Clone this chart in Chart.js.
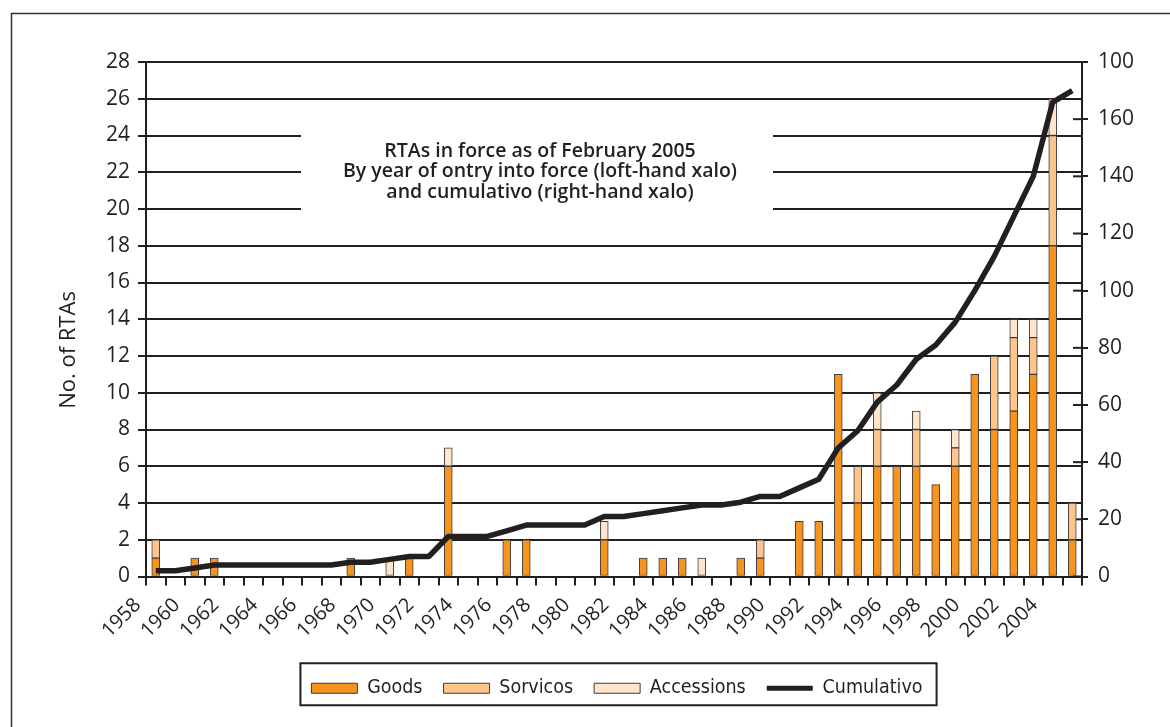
<!DOCTYPE html>
<html>
<head>
<meta charset="utf-8">
<title>RTAs in force as of February 2005</title>
<script src="https://cdn.jsdelivr.net/npm/chart.js@4.4.0/dist/chart.umd.min.js"></script>
<style>
  html, body { margin: 0; padding: 0; background: #fff; }
</style>
</head>
<body>
<canvas id="rta-chart" width="1170" height="727"></canvas>
<script>
// categories: year of entry into force
var years = ["1958", "1959", "1960", "1961", "1962", "1963", "1964", "1965", "1966", "1967",
  "1968", "1969", "1970", "1971", "1972", "1973", "1974", "1975", "1976", "1977",
  "1978", "1979", "1980", "1981", "1982", "1983", "1984", "1985", "1986", "1987",
  "1988", "1989", "1990", "1991", "1992", "1993", "1994", "1995", "1996", "1997",
  "1998", "1999", "2000", "2001", "2002", "2003", "2004", "2005"];

// left-hand axis, RTAs per year
var goods = [1, 0, 1, 1, 0, 0, 0, 0, 0, 0,
  1, 0, 0, 1, 0, 6, 0, 0, 2, 2,
  0, 0, 0, 2, 0, 1, 1, 1, 0, 0,
  1, 1, 0, 3, 3, 11, 4, 6, 6, 6,
  5, 6, 11, 8, 9, 11, 18, 2];
var sorvicos = [1, 0, 0, 0, 0, 0, 0, 0, 0, 0,
  0, 0, 0, 0, 0, 0, 0, 0, 0, 0,
  0, 0, 0, 0, 0, 0, 0, 0, 0, 0,
  0, 1, 0, 0, 0, 0, 2, 2, 0, 2,
  0, 1, 0, 4, 4, 2, 6, 2];
var accessions = [0, 0, 0, 0, 0, 0, 0, 0, 0, 0,
  0, 0, 1, 0, 0, 1, 0, 0, 0, 0,
  0, 0, 0, 1, 0, 0, 0, 0, 1, 0,
  0, 0, 0, 0, 0, 0, 0, 2, 0, 1,
  0, 1, 0, 0, 1, 1, 2, 0];

// right-hand axis, cumulative total
var cumulativo = [2, 2, 3, 4, 4, 4, 4, 4, 4, 4,
  5, 5, 6, 7, 7, 14, 14, 14, 16, 18,
  18, 18, 18, 21, 21, 22, 23, 24, 25, 25,
  26, 28, 28, 31, 34, 45, 51, 61, 67, 76,
  81, 89, 100, 112, 126, 140, 166, 170];

var rightTickLabels = ["0", "20", "40", "60", "80", "100", "120", "140", "160", "100"];

var titleLines = [
  "RTAs in force as of February 2005",
  "By year of ontry into force (loft-hand xalo)",
  "and cumulativo (right-hand xalo)"
];

var ink = "#231f20";
var barEdge = "#3c3c3c";
var legendFont = 19.5;
var legendPad = 21;

Chart.defaults.font.family = "'Open Sans', sans-serif";
Chart.defaults.color = ink;

// extra drawing: title panel, axis title, legend frame, outer frame
var decor = {
  id: "decor",
  afterLayout: function (chart) {
    // legend sits roughly under the plot centre
    chart.legend.left = 0;
    chart.legend.right = 1234;
  },
  beforeDatasetsDraw: function (chart) {
    var ctx = chart.ctx;
    ctx.save();
    ctx.fillStyle = "#fff";
    ctx.fillRect(301, 118, 472, 112);
    ctx.fillStyle = ink;
    ctx.font = "600 19.5px 'Open Sans'";
    ctx.textAlign = "center";
    ctx.textBaseline = "middle";
    titleLines.forEach(function (t, i) {
      ctx.fillText(t, 540, 151 + i * 20.5);
    });

    // right axis ticks cross the axis line
    var y2 = chart.scales.y2;
    ctx.strokeStyle = ink;
    ctx.lineWidth = 2;
    y2.ticks.forEach(function (t) {
      var py = y2.getPixelForValue(t.value);
      ctx.beginPath();
      ctx.moveTo(y2.left - 9, py);
      ctx.lineTo(y2.left, py);
      ctx.stroke();
    });
    ctx.restore();
  },
  afterDraw: function (chart) {
    var ctx = chart.ctx;
    ctx.save();
    ctx.fillStyle = ink;
    ctx.font = "22px 'Open Sans'";
    ctx.textAlign = "center";
    ctx.textBaseline = "middle";
    ctx.translate(69, 350);
    ctx.rotate(-Math.PI / 2);
    ctx.fillText("No. of RTAs", 0, 0);
    ctx.restore();

    var lg = chart.legend;
    var hb = lg.legendHitBoxes;
    if (hb && hb.length) {
      var last = hb[hb.length - 1];
      var x0 = hb[0].left - 11;
      var x1 = last.left + last.width + 14;
      var cy = lg.top + legendPad + legendFont / 2;
      ctx.save();
      ctx.strokeStyle = ink;
      ctx.lineWidth = 2;
      ctx.strokeRect(x0, cy - 25, x1 - x0, 42);
      ctx.restore();
    }

    ctx.save();
    ctx.strokeStyle = "#333";
    ctx.lineWidth = 1.5;
    ctx.beginPath();
    ctx.moveTo(11.5, 727);
    ctx.lineTo(11.5, 13.5);
    ctx.lineTo(1170, 13.5);
    ctx.stroke();
    ctx.restore();
  }
};

function barSet(label, values, color) {
  return {
    type: "bar",
    label: label,
    data: values,
    backgroundColor: color,
    borderColor: barEdge,
    borderWidth: 1,
    borderSkipped: false,
    barThickness: 8,
    yAxisID: "y",
    order: 1
  };
}

var ctx = document.getElementById("rta-chart").getContext("2d");
var chart = new Chart(ctx, {
  type: "bar",
  data: {
    labels: years,
    datasets: [
      barSet("Goods", goods, "#f7941e"),
      barSet("Sorvicos", sorvicos, "#fdc58b"),
      barSet("Accessions", accessions, "#fee5cb"),
      {
        type: "line",
        label: "Cumulativo",
        data: cumulativo,
        borderColor: ink,
        backgroundColor: ink,
        borderWidth: 5.5,
        borderJoinStyle: "round",
        pointRadius: 0,
        tension: 0,
        fill: false,
        yAxisID: "y2",
        order: 0
      }
    ]
  },
  options: {
    responsive: false,
    animation: false,
    layout: { padding: { left: 40, right: 20, top: 62, bottom: 19 } },
    plugins: {
      tooltip: { enabled: false },
      legend: {
        position: "bottom",
        labels: {
          usePointStyle: true,
          pointStyleWidth: 46,
          boxHeight: 10,
          padding: legendPad,
          color: ink,
          font: { family: "'Liberation Sans Narrow', 'DejaVu Sans Condensed', sans-serif", size: legendFont },
          sort: function (a, b) { return a.datasetIndex - b.datasetIndex; },
          generateLabels: function (chart) {
            var items = Chart.defaults.plugins.legend.labels.generateLabels(chart);
            items.forEach(function (it) {
              var ds = chart.data.datasets[it.datasetIndex];
              if (ds.type === "line") {
                it.pointStyle = "line";
                it.lineWidth = 5;
                it.strokeStyle = ink;
              } else {
                it.pointStyle = "rect";
                it.lineWidth = 1;
                it.strokeStyle = barEdge;
                it.fillStyle = ds.backgroundColor;
              }
            });
            return items;
          }
        }
      }
    },
    scales: {
      x: {
        stacked: true,
        offset: true,
        grid: { offset: true, drawOnChartArea: false, color: ink, lineWidth: 2, tickLength: 9 },
        border: { color: ink, width: 2 },
        ticks: {
          autoSkip: false,
          minRotation: 45,
          maxRotation: 45,
          labelOffset: -18,
          padding: 8,
          color: ink,
          font: { size: 20 },
          callback: function (v, i) { return i % 2 === 0 ? years[i] : ""; }
        },
        afterFit: function (s) { s.height = 81; }
      },
      y: {
        stacked: true,
        position: "left",
        min: 0,
        max: 28,
        ticks: { stepSize: 2, padding: 8, color: ink, font: { size: 21 } },
        grid: { color: ink, lineWidth: 2, tickLength: 8 },
        border: { color: ink, width: 2 },
        afterFit: function (s) { s.width = 106; }
      },
      y2: {
        position: "right",
        min: 0,
        max: 180,
        ticks: {
          stepSize: 20,
          padding: 10,
          color: ink,
          font: { size: 21 },
          callback: function (v, i) { return rightTickLabels[i]; }
        },
        grid: { drawOnChartArea: false, color: ink, lineWidth: 2, tickLength: 6 },
        border: { color: ink, width: 2 },
        afterFit: function (s) { s.width = 68; }
      }
    }
  },
  plugins: [decor]
});
</script>
</body>
</html>
